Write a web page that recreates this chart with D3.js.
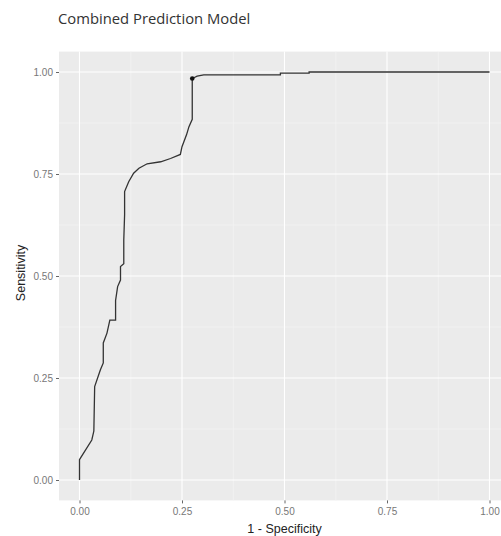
<!DOCTYPE html>
<html>
<head>
<meta charset="utf-8">
<script src="https://cdn.jsdelivr.net/npm/d3@7"></script>
<style>
  body { margin: 0; background: #fff; }
  svg { display: block; }
</style>
</head>
<body>
<div id="chart"></div>
<script>
// ROC curve of the combined prediction model
const fpr = [0.000, 0.000, 0.003, 0.030, 0.035, 0.037, 0.051, 0.058, 0.058, 0.067, 0.074, 0.088, 0.088,
             0.093, 0.100, 0.100, 0.108, 0.108, 0.110, 0.110, 0.120, 0.132, 0.145, 0.165, 0.198, 0.222,
             0.246, 0.250, 0.261, 0.267, 0.275, 0.275, 0.287, 0.303, 0.490, 0.490, 0.560, 0.560, 1.000];
const tpr = [0.000, 0.050, 0.055, 0.098, 0.120, 0.229, 0.270, 0.287, 0.336, 0.360, 0.392, 0.392, 0.440,
             0.474, 0.490, 0.523, 0.530, 0.588, 0.650, 0.707, 0.731, 0.752, 0.764, 0.775, 0.780, 0.788,
             0.798, 0.817, 0.846, 0.866, 0.884, 0.984, 0.990, 0.993, 0.993, 0.997, 0.997, 1.000, 1.000];
// the highlighted cut-off point
const bestPoint = [0.275, 0.984];
const majorTicks = [0, 0.25, 0.5, 0.75, 1];
const minorTicks = [0.125, 0.375, 0.625, 0.875];

const width = 501, height = 536;
const panel = { left: 59, top: 51.6, right: 510, bottom: 500.4 };

const svg = d3.select("#chart").append("svg")
    .attr("width", width)
    .attr("height", height);

// ggplot-style scales with 5% expansion
const x = d3.scaleLinear().domain([-0.05, 1.05]).range([panel.left, panel.right]);
const y = d3.scaleLinear().domain([-0.05, 1.05]).range([panel.bottom, panel.top]);

svg.append("rect")
    .attr("x", panel.left)
    .attr("y", panel.top)
    .attr("width", panel.right - panel.left)
    .attr("height", panel.bottom - panel.top)
    .attr("fill", "#ebebeb");

const grid = svg.append("g");
grid.selectAll(".minx").data(minorTicks).join("line")
    .attr("x1", d => x(d)).attr("x2", d => x(d))
    .attr("y1", panel.top).attr("y2", panel.bottom)
    .attr("stroke", "#f5f5f5").attr("stroke-width", 0.6);
grid.selectAll(".miny").data(minorTicks).join("line")
    .attr("y1", d => y(d)).attr("y2", d => y(d))
    .attr("x1", panel.left).attr("x2", panel.right)
    .attr("stroke", "#f5f5f5").attr("stroke-width", 0.6);
grid.selectAll(".majx").data(majorTicks).join("line")
    .attr("x1", d => x(d)).attr("x2", d => x(d))
    .attr("y1", panel.top).attr("y2", panel.bottom)
    .attr("stroke", "#fff").attr("stroke-width", 1.1);
grid.selectAll(".majy").data(majorTicks).join("line")
    .attr("y1", d => y(d)).attr("y2", d => y(d))
    .attr("x1", panel.left).attr("x2", panel.right)
    .attr("stroke", "#fff").attr("stroke-width", 1.1);

// axes
const xAxis = svg.append("g")
    .attr("transform", `translate(0,${panel.bottom})`)
    .call(d3.axisBottom(x).tickValues(majorTicks).tickFormat(d3.format(".2f")).tickSize(3).tickPadding(5));
const yAxis = svg.append("g")
    .attr("transform", `translate(${panel.left},0)`)
    .call(d3.axisLeft(y).tickValues(majorTicks).tickFormat(d3.format(".2f")).tickSize(3).tickPadding(3));

[xAxis, yAxis].forEach(ax => {
    ax.select(".domain").remove();
    ax.selectAll(".tick line").attr("stroke", "#666");
    ax.selectAll(".tick text")
        .attr("fill", "#777")
        .attr("font-family", "Liberation Sans, Arial, sans-serif")
        .attr("font-size", "10px");
});

// ROC line
const line = d3.line()
    .x((d, i) => x(fpr[i]))
    .y((d, i) => y(tpr[i]));

svg.append("path")
    .datum(fpr)
    .attr("d", line)
    .attr("fill", "none")
    .attr("stroke", "#333")
    .attr("stroke-width", 1.3);

svg.append("circle")
    .attr("cx", x(bestPoint[0]))
    .attr("cy", y(bestPoint[1]))
    .attr("r", 2.3)
    .attr("fill", "#111");

// titles
svg.append("text")
    .attr("x", 58)
    .attr("y", 24)
    .attr("font-family", "Open Sans, sans-serif")
    .attr("font-size", "14.8px")
    .attr("fill", "#333")
    .text("Combined Prediction Model");

svg.append("text")
    .attr("x", x(0.5))
    .attr("y", 533)
    .attr("text-anchor", "middle")
    .attr("font-family", "Liberation Sans, Arial, sans-serif")
    .attr("font-size", "12.5px")
    .attr("fill", "#222")
    .text("1 - Specificity");

svg.append("text")
    .attr("transform", `translate(25,${y(0.5) - 3}) rotate(-90)`)
    .attr("text-anchor", "middle")
    .attr("font-family", "Liberation Sans, Arial, sans-serif")
    .attr("font-size", "12.5px")
    .attr("fill", "#222")
    .text("Sensitivity");
</script>
</body>
</html>
